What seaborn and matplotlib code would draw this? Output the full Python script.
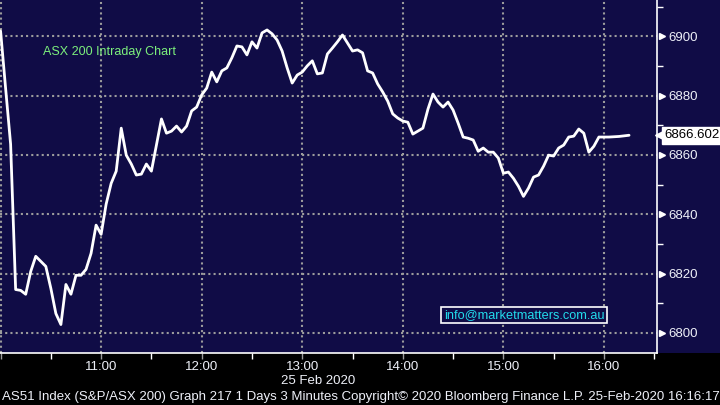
import pandas as pd
import numpy as np
import matplotlib
matplotlib.use("Agg")
from matplotlib import pyplot as plt
import matplotlib.dates as mdates
from matplotlib.patches import Rectangle
import seaborn as sns

# === Data: ASX 200 3-minute bars, 25 Feb 2020 ===
start_time = "2020-02-25 10:00"
bar_minutes = 3
asx_values = [
    6901.8, 6882.5, 6863.6, 6814.6, 6814.3, 6813.0, 6820.7, 6825.8, 6824.1, 6822.4,
    6815.0, 6806.5, 6802.8, 6816.3, 6813.0, 6819.4, 6819.4, 6821.4, 6826.8, 6836.3,
    6833.2, 6843.4, 6850.4, 6854.5, 6869.0, 6859.9, 6856.9, 6853.2, 6853.5, 6856.9,
    6854.5, 6863.3, 6872.1, 6867.3, 6868.0, 6869.7, 6867.7, 6869.7, 6874.8, 6876.1,
    6880.2, 6882.5, 6887.9, 6884.6, 6888.3, 6889.3, 6892.7, 6896.7, 6896.4, 6893.7,
    6898.1, 6896.0, 6901.1, 6902.1, 6900.8, 6898.7, 6895.0, 6889.3, 6884.2, 6886.9,
    6887.9, 6890.0, 6891.7, 6887.3, 6887.6, 6894.0, 6896.0, 6898.1, 6900.4, 6897.7,
    6895.0, 6895.4, 6894.4, 6888.3, 6887.6, 6883.9, 6881.2, 6878.1, 6873.8, 6872.4,
    6871.4, 6871.0, 6867.0, 6868.0, 6869.0, 6875.4, 6880.5, 6877.8, 6876.1, 6877.8,
    6875.1, 6870.7, 6866.0, 6865.6, 6865.0, 6861.2, 6862.3, 6860.9, 6860.9, 6858.9,
    6853.8, 6854.2, 6852.1, 6849.4, 6846.0, 6848.8, 6852.5, 6853.2, 6856.2, 6859.9,
    6859.6, 6862.3, 6863.3, 6866.0, 6866.3, 6868.7, 6867.3, 6860.9, 6862.9, 6866.0,
    6866.0, 6866.0, 6866.1, 6866.2, 6866.4, 6866.602,
]
last_value = 6866.602
y_ticks = [6800, 6820, 6840, 6860, 6880, 6900]
hour_labels = ["", "11:00", "12:00", "13:00", "14:00", "15:00", "16:00"]

title_text = "ASX 200 Intraday Chart"
email_text = "info@marketmatters.com.au"
date_text = "25 Feb 2020"
footer_text = ("AS51 Index (S&P/ASX 200) Graph 217 1 Days 3 Minutes "
               "Copyright\u00a9 2020 Bloomberg Finance L.P. 25-Feb-2020 16:16:17")

df = pd.DataFrame({
    "time": pd.date_range(start_time, periods=len(asx_values), freq=f"{bar_minutes}min"),
    "value": asx_values,
})

# === Style ===
NAVY = "#100c46"
GRID = "#9c9c9c"
LABEL = "#eef0f8"
sns.set_style("dark")
plt.rcParams["font.family"] = ["Liberation Sans", "DejaVu Sans"]

fig = plt.figure(figsize=(7.2, 4.05), dpi=100, facecolor=NAVY)
# black strip under the plot area (kept behind the axes)
fig.patches.append(Rectangle((0, 0), 1, 52 / 405, transform=fig.transFigure,
                             facecolor="black", edgecolor="none", zorder=-5))
ax = fig.add_axes([0, 52 / 405, 657 / 720, 353 / 405])
ax.set_facecolor(NAVY)

sns.lineplot(data=df, x="time", y="value", ax=ax, color="white", lw=2, zorder=3)

# limits
t0 = pd.Timestamp(start_time)
ax.set_xlim(t0 - pd.Timedelta(seconds=20), pd.Timestamp("2020-02-25 16:31:40"))
ax.set_ylim(6793.2, 6912.2)

# x axis
hour_ticks = pd.date_range(start_time, periods=len(hour_labels), freq="1h")
ax.set_xticks(hour_ticks)
ax.set_xticklabels(hour_labels)
ax.xaxis.set_minor_locator(mdates.MinuteLocator(byminute=[30]))
ax.tick_params(axis="x", which="major", bottom=True, labelbottom=True,
               colors=GRID, length=4, width=1,
               labelcolor=LABEL, labelsize=9.5, pad=2)
ax.tick_params(axis="x", which="minor", bottom=True, colors="white",
               length=4, width=1)
ax.set_xlabel("")

# y axis on the right
ax.yaxis.tick_right()
ax.set_yticks(y_ticks)
ax.set_yticks(np.arange(6810, 6911, 20), minor=True)
ax.tick_params(axis="y", which="major", length=0, pad=8,
               labelcolor=LABEL, labelsize=9.5)
ax.tick_params(axis="y", which="minor", right=True, colors="white",
               length=4, width=1)
ax.set_ylabel("")
ytrans = ax.get_yaxis_transform()
ax.plot([1 + 5 / 657] * len(y_ticks), y_ticks, ls="none", marker=">", ms=5,
        color="white", transform=ytrans, clip_on=False)

# grid
ax.grid(True, which="major", color=GRID, linestyle=(0, (1, 1.5)), lw=1.5)
for s in ["left", "top"]:
    ax.spines[s].set_visible(False)
for s in ["right", "bottom"]:
    ax.spines[s].set_visible(True)
    ax.spines[s].set_color("white")
    ax.spines[s].set_linewidth(1.2)

# last value tag
ax.plot([1 + 3 / 657], [last_value], ls="none", marker="<", ms=7,
        color="white", transform=ytrans, clip_on=False)
ax.annotate(f"{last_value:.3f}", xy=(1, last_value), xycoords=ytrans,
            xytext=(5, 0), textcoords="offset points", ha="left", va="center",
            fontsize=9.5, color="black",
            bbox=dict(boxstyle="square,pad=0.18", fc="white", ec="white"),
            annotation_clip=False)

# texts
ax.text(43 / 657, 1 - 52 / 353, title_text, transform=ax.transAxes,
        color="#7cf07c", fontsize=9, ha="left", va="center")
ax.text(524 / 657, 1 - 315 / 353, email_text, transform=ax.transAxes,
        color="#22dcec", fontsize=9.2, ha="center", va="center",
        bbox=dict(boxstyle="square,pad=0.18", fc=NAVY, ec="white", lw=1.2))
fig.text(318 / 720, 1 - 381 / 405, date_text, color=LABEL,
         fontsize=9.5, ha="center", va="center")
fig.text(2 / 720, 1 - 397 / 405, footer_text, color=LABEL,
         fontsize=9.5, ha="left", va="center")

fig.savefig("out.png", dpi=100, facecolor=NAVY)
